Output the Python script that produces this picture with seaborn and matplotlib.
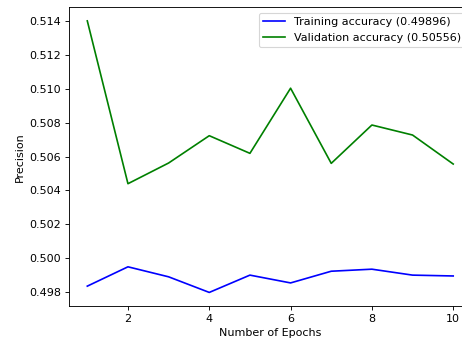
import matplotlib
matplotlib.use("Agg")
import matplotlib.pyplot as plt
import seaborn as sns
import pandas as pd

epochs = [1, 2, 3, 4, 5, 6, 7, 8, 9, 10]
train_acc = [0.49836, 0.49950, 0.49891, 0.49799, 0.49901, 0.49855, 0.49924, 0.49936, 0.49901, 0.49896]
val_acc = [0.51400, 0.50440, 0.50562, 0.50723, 0.50619, 0.51003, 0.50560, 0.50786, 0.50727, 0.50556]

train_label = f"Training accuracy ({train_acc[-1]:.5f})"
val_label = f"Validation accuracy ({val_acc[-1]:.5f})"

df = pd.DataFrame({"epoch": epochs, "train": train_acc, "val": val_acc})

# sizes scaled from matplotlib defaults
s = 100 / 72 * 0.8
plt.rcParams.update({
    "font.family": ["DejaVu Sans"],
    "font.size": 10 * s,
    "lines.linewidth": 1.5 * s,
    "axes.linewidth": 0.8 * s,
    "xtick.major.size": 3.5 * s,
    "ytick.major.size": 3.5 * s,
    "xtick.major.width": 0.8 * s,
    "ytick.major.width": 0.8 * s,
    "xtick.major.pad": 3.5 * s,
    "ytick.major.pad": 3.5 * s,
    "axes.labelpad": 4.0 * s,
    "legend.framealpha": 0.8,
})

fig = plt.figure(figsize=(462 / 72, 345 / 72), dpi=72)
ax = fig.add_axes([69 / 462, 39 / 345, (471.5 - 69) / 462, (306 - 7.3) / 345])

sns.lineplot(data=df, x="epoch", y="train", color="blue", label=train_label, ax=ax)
sns.lineplot(data=df, x="epoch", y="val", color="green", label=val_label, ax=ax)

ax.set_xlabel("Number of Epochs")
ax.set_ylabel("Precision")
leg = ax.legend(loc="upper right")
leg.get_frame().set_linewidth(1.0 * s)

fig.savefig("out.png", dpi=72)
